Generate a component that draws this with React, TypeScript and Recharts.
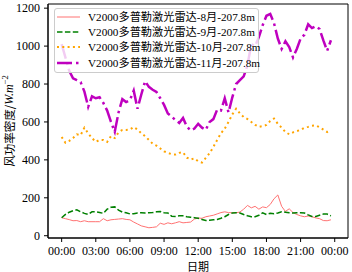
import React from 'react';
import { LineChart, Line, XAxis, YAxis, Legend, ReferenceArea } from 'recharts';

// minutes after midnight, one sample every 20 min
const minutes = [
  0, 20, 40, 60, 80, 100, 120, 140, 160, 180, 200, 220, 240, 260, 280, 300, 320, 340,
  360, 380, 400, 420, 440, 460, 480, 500, 520, 540, 560, 580, 600, 620, 640, 660, 680, 700,
  720, 740, 760, 780, 800, 820, 840, 860, 880, 900, 920, 940, 960, 980, 1000, 1020, 1040, 1060,
  1080, 1100, 1120, 1140, 1160, 1180, 1200, 1220, 1240, 1260, 1280, 1300, 1320, 1340, 1360, 1380,
  1400, 1420,
];

const aug = [
  95, 90, 85, 79, 80, 74, 79, 74, 74, 74,
  74, 90, 79, 84, 86, 88, 90, 86, 84, 72,
  62, 52, 47, 42, 44, 47, 66, 60, 68, 63,
  68, 74, 68, 70, 72, 88, 93, 92, 100, 104,
  108, 115, 122, 126, 122, 121, 121, 125, 140, 160,
  147, 155, 140, 152, 148, 165, 195, 215, 155, 128,
  142, 122, 112, 105, 100, 104, 100, 94, 90, 80,
  79, 84,
];

const sep = [
  95, 112, 124, 132, 137, 126, 118, 112, 126, 126,
  123, 118, 140, 150, 152, 135, 125, 121, 115, 116,
  120, 121, 120, 121, 122, 126, 128, 121, 120, 103,
  102, 105, 105, 100, 98, 95, 92, 86, 80, 82,
  84, 86, 92, 100, 112, 120, 121, 120, 112, 105,
  100, 100, 108, 121, 112, 118, 116, 120, 126, 124,
  121, 120, 121, 121, 120, 110, 102, 102, 108, 114,
  114, 105,
];

const oct = [
  521, 490, 500, 515, 535, 530, 570, 540, 515, 495,
  505, 505, 495, 525, 515, 545, 558, 558, 560, 573,
  560, 540, 525, 505, 485, 475, 460, 445, 437, 430,
  428, 437, 440, 412, 402, 408, 392, 386, 410, 435,
  468, 505, 540, 565, 600, 640, 670, 645, 626, 615,
  600, 585, 574, 578, 584, 605, 618, 590, 570, 547,
  535, 545, 552, 558, 570, 574, 580, 582, 572, 560,
  547, 556,
];

const nov = [
  1010, 940, 870, 830, 820, 810, 760, 680, 735, 725,
  730, 700, 660, 600, 548, 650, 720, 705, 715, 765,
  670, 745, 815, 785, 770, 758, 725, 690, 645, 628,
  610, 595, 621, 575, 555, 565, 590, 570, 558, 600,
  615, 665, 660, 725, 650, 730, 800, 820, 840, 900,
  1010, 1000, 1047, 1110, 1160, 1170, 1120, 1040, 985, 1025,
  995, 940, 985, 1040, 1060, 1115, 1095, 1105, 1090, 1030,
  975, 1031,
];

const xTicks = [0, 180, 360, 540, 720, 900, 1080, 1260, 1440];
const yTicks = [0, 200, 400, 600, 800, 1000, 1200];

const data = minutes.map((m, i) => ({ m, aug: aug[i], sep: sep[i], oct: oct[i], nov: nov[i] }));

const series = [
  { key: 'aug', name: 'V2000多普勒激光雷达-8月-207.8m', color: '#ff7272', width: 1, dash: undefined },
  { key: 'sep', name: 'V2000多普勒激光雷达-9月-207.8m', color: '#008000', width: 1.5, dash: '5.5 2.4' },
  { key: 'oct', name: 'V2000多普勒激光雷达-10月-207.8m', color: '#ffa500', width: 2, dash: '2 3.3' },
  { key: 'nov', name: 'V2000多普勒激光雷达-11月-207.8m', color: '#bf00bf', width: 2.5, dash: '15 4 2.5 4' },
];

const serif = '"Liberation Serif", "Noto Sans CJK SC", serif';
const cjk = '"Noto Sans CJK SC", sans-serif';

const fmtTime = (m: number) => `${String(Math.floor(m / 60) % 24).padStart(2, '0')}:00`;

const LegendBox = () => (
  <div
    style={{
      width: 203,
      paddingBottom: 2,
      background: 'rgba(255,255,255,0.8)',
      border: '1px solid #cccccc',
      borderRadius: 3,
    }}
  >
    {series.map((s) => (
      <div key={s.key} style={{ display: 'flex', alignItems: 'center', height: 15.3, whiteSpace: 'nowrap' }}>
        <svg width={33} height={10} style={{ flex: 'none' }}>
          <line x1={2} y1={5} x2={25} y2={5} stroke={s.color} strokeWidth={s.width} strokeDasharray={s.dash} />
        </svg>
        <span style={{ fontFamily: serif, fontSize: 11.2, color: '#000', lineHeight: '12px' }}>{s.name}</span>
      </div>
    ))}
  </div>
);

const YLabel = (props: any) => {
  const vb = props.viewBox || {};
  const cy = (vb.y ?? 4) + (vb.height ?? 234) / 2;
  const cx = 9;
  return (
    <text x={cx} y={cy} transform={`rotate(-90 ${cx} ${cy})`} textAnchor="middle" dominantBaseline="central" fill="#000" fontSize={11.5}>
      <tspan fontFamily={cjk}>风功率密度/</tspan>
      <tspan fontFamily={serif} fontStyle="italic" fontSize={12}>W.m</tspan>
      <tspan fontFamily={serif} fontSize={8.5} dy={-4.5}>−2</tspan>
    </text>
  );
};

const XLabel = (props: any) => {
  const vb = props.viewBox || {};
  const cx = (vb.x ?? 48) + (vb.width ?? 300) / 2;
  return (
    <text x={cx} y={265.5} textAnchor="middle" dominantBaseline="central" fill="#000" fontSize={11} fontFamily={cjk}>
      日期
    </text>
  );
};

export default function App() {
  return (
    <div style={{ position: 'absolute', left: 0, top: 0, background: '#fff' }}>
      <LineChart width={352} height={272} data={data} margin={{ top: 4, right: 4, bottom: 0, left: 0 }}>
        <XAxis
          dataKey="m"
          type="number"
          domain={[-72, 1510]}
          ticks={xTicks}
          interval={0}
          allowDataOverflow
          tickFormatter={fmtTime}
          tickSize={4}
          tickMargin={4}
          height={34}
          axisLine={{ stroke: '#000' }}
          tickLine={{ stroke: '#000' }}
          tick={{ fontFamily: serif, fontSize: 12, fill: '#000' }}
          label={<XLabel />}
        />
        <YAxis
          type="number"
          domain={[-12, 1222]}
          ticks={yTicks}
          interval={0}
          allowDataOverflow
          width={48}
          tickSize={4}
          tickMargin={4}
          axisLine={{ stroke: '#000' }}
          tickLine={{ stroke: '#000' }}
          tick={{ fontFamily: serif, fontSize: 12, fill: '#000' }}
          label={<YLabel />}
        />
        {series.map((s) => (
          <Line
            key={s.key}
            type="linear"
            dataKey={s.key}
            name={s.name}
            stroke={s.color}
            strokeWidth={s.width}
            strokeDasharray={s.dash}
            dot={false}
            activeDot={false}
            isAnimationActive={false}
          />
        ))}
        <ReferenceArea x1={-72} x2={1510} y1={-12} y2={1222} fill="none" stroke="#000" strokeWidth={1} />
        <Legend
          layout="vertical"
          align="center"
          verticalAlign="middle"
          content={<LegendBox />}
          wrapperStyle={{ left: 54, top: 8, width: 206, height: 66 }}
        />
      </LineChart>
    </div>
  );
}
